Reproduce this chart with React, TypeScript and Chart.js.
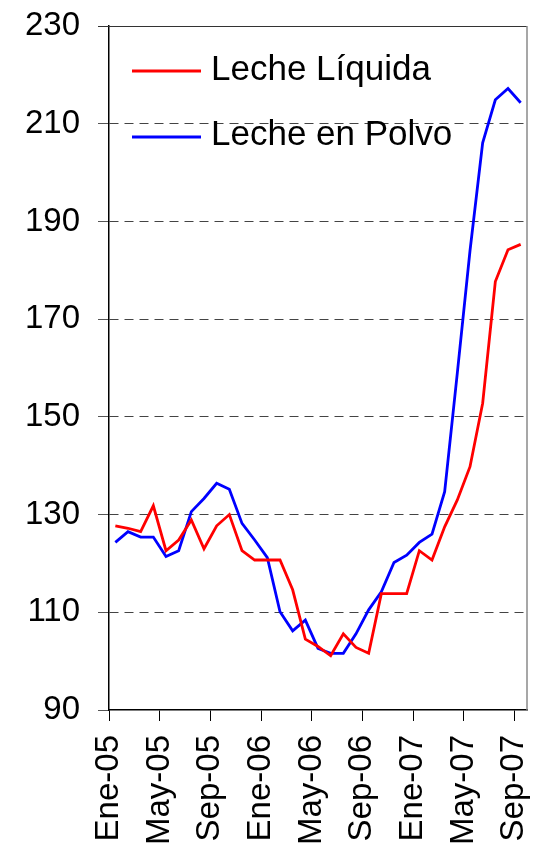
import React, { useEffect, useRef } from "react";
import { Chart, registerables } from "chart.js";

Chart.register(...registerables);

const MONTHS = ["Ene", "Feb", "Mar", "Abr", "May", "Jun", "Jul", "Ago", "Sep", "Oct", "Nov", "Dic"];
const categories: string[] = [];
for (let y = 5; y <= 7; y++) {
  for (let m = 0; m < 12; m++) {
    if (y === 7 && m > 8) break;
    categories.push(`${MONTHS[m]}-0${y}`);
  }
}

const lecheLiquida = [
  127.7, 127.2, 126.5, 131.8, 122.6, 124.8, 128.9, 123.0, 127.7, 130.0, 122.6, 120.7,
  120.7, 120.7, 114.6, 104.5, 103.0, 101.1, 105.6, 102.8, 101.6, 113.8, 113.8, 113.8,
  122.6, 120.7, 127.5, 133.0, 139.8, 152.8, 177.7, 184.2, 185.3,
];

const lechePolvo = [
  124.3, 126.5, 125.4, 125.4, 121.4, 122.6, 130.6, 133.3, 136.4, 135.2, 128.2, 124.8,
  121.2, 110.1, 106.2, 108.4, 102.6, 101.6, 101.6, 105.6, 110.5, 114.2, 120.2, 121.7,
  124.3, 126.0, 134.7, 159.0, 184.0, 206.1, 214.9, 217.2, 214.3,
];

const seriesNames = ["Leche Líquida", "Leche en Polvo"];
const seriesColors = ["#FF0000", "#0000FF"];

const yMin = 90;
const yMax = 230;
const yStep = 20;

const FONT = "'Liberation Sans', Arial, Helvetica, sans-serif";

const framePlugin = {
  id: "frame",
  afterDatasetsDraw(chart: any) {
    const { ctx, chartArea } = chart;
    ctx.save();
    ctx.lineWidth = 1;
    ctx.strokeStyle = "#333333";
    ctx.beginPath();
    ctx.moveTo(chartArea.left - 11, chartArea.top + 0.5);
    ctx.lineTo(chartArea.right, chartArea.top + 0.5);
    ctx.stroke();
    ctx.strokeStyle = "#8a8a8a";
    ctx.lineWidth = 1.5;
    ctx.beginPath();
    ctx.moveTo(chartArea.right, chartArea.top);
    ctx.lineTo(chartArea.right, chartArea.bottom);
    ctx.stroke();

    // legend
    const rows = [
      { y: 71, base: 80 },
      { y: 137, base: 145 },
    ];
    ctx.font = `35px ${FONT}`;
    ctx.textBaseline = "alphabetic";
    ctx.textAlign = "left";
    rows.forEach((r, i) => {
      ctx.strokeStyle = seriesColors[i];
      ctx.lineWidth = 2.8;
      ctx.beginPath();
      ctx.moveTo(132, r.y);
      ctx.lineTo(201, r.y);
      ctx.stroke();
      ctx.fillStyle = "#000";
      ctx.fillText(seriesNames[i], 211, r.base);
    });
    ctx.restore();
  },
};

export default function App() {
  const ref = useRef<HTMLCanvasElement>(null);
  useEffect(() => {
    if (!ref.current) return;
    const chart = new Chart(ref.current, {
      type: "line",
      data: {
        labels: categories,
        datasets: [
          {
            label: seriesNames[0],
            data: lecheLiquida,
            borderColor: seriesColors[0],
            borderWidth: 2.8,
            pointRadius: 0,
            tension: 0,
            fill: false,
          },
          {
            label: seriesNames[1],
            data: lechePolvo,
            borderColor: seriesColors[1],
            borderWidth: 2.8,
            pointRadius: 0,
            tension: 0,
            fill: false,
          },
        ],
      },
      options: {
        animation: false,
        responsive: false,
        maintainAspectRatio: false,
        layout: { padding: { left: 0, right: 18, top: 26, bottom: 0 } },
        plugins: { legend: { display: false }, tooltip: { enabled: false } },
        scales: {
          x: {
            type: "category",
            offset: true,
            grid: {
              offset: true,
              drawOnChartArea: false,
              drawTicks: true,
              tickLength: 11,
              tickColor: (c: any) => (c.index % 4 === 0 ? "#000" : "rgba(0,0,0,0)"),
              tickWidth: 1,
            },
            border: { display: true, color: "#000", width: 1.5 },
            ticks: {
              autoSkip: false,
              maxRotation: 90,
              minRotation: 90,
              padding: 14,
              labelOffset: -6.3,
              color: "#000",
              font: { family: FONT, size: 33 },
              callback: (_v: any, i: number) => (i % 4 === 0 ? categories[i] : ""),
            },
            afterFit: (s: any) => {
              s.height = 143;
              s.paddingLeft = 0;
              s.paddingRight = 0;
              s.paddingTop = 0;
              s.paddingBottom = 0;
            },
          },
          y: {
            min: yMin,
            max: yMax,
            grid: {
              color: (c: any) =>
                c.tick && (c.tick.value === yMin || c.tick.value === yMax) ? "rgba(0,0,0,0)" : "#444444",
              lineWidth: 1,
              tickLength: 11,
              tickColor: "#555",
              tickWidth: 1,
            },
            border: { display: true, color: "#000", width: 1.5, dash: [9, 6] },
            ticks: {
              stepSize: yStep,
              padding: 18,
              color: "#000",
              font: { family: FONT, size: 33 },
            },
            afterFit: (s: any) => {
              s.width = 109;
              s.paddingLeft = 0;
              s.paddingRight = 0;
              s.paddingTop = 0;
              s.paddingBottom = 0;
            },
          },
        },
      },
      plugins: [framePlugin],
    });
    return () => chart.destroy();
  }, []);
  return (
    <div style={{ position: "fixed", left: 0, top: 0, width: 545, height: 853, background: "#fff" }}>
      <canvas ref={ref} width={545} height={853} style={{ display: "block" }} />
    </div>
  );
}
